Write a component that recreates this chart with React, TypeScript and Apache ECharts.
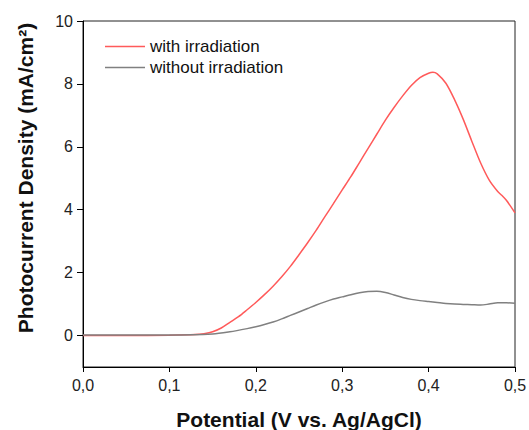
import React, { useEffect, useRef } from "react";
import * as echarts from "echarts";

const potential = [
  0.0, 0.05, 0.1, 0.13, 0.14, 0.15, 0.16, 0.17, 0.18, 0.19, 0.2, 0.21, 0.22, 0.23, 0.24, 0.25,
  0.26, 0.27, 0.28, 0.29, 0.3, 0.31, 0.32, 0.33, 0.34, 0.35, 0.36, 0.37, 0.38, 0.39, 0.4,
  0.405, 0.41, 0.42, 0.43, 0.44, 0.45, 0.46, 0.47, 0.48, 0.485, 0.49, 0.5,
];
const withIrradiation = [
  0.0, 0.0, 0.01, 0.03, 0.06, 0.12, 0.24, 0.42, 0.6, 0.82, 1.05, 1.3, 1.57, 1.87, 2.2, 2.57,
  2.95, 3.35, 3.78, 4.2, 4.63, 5.05, 5.5, 5.95, 6.4, 6.85, 7.25, 7.62, 7.95, 8.2, 8.34,
  8.37, 8.32, 8.02, 7.5, 6.88, 6.18, 5.5, 4.95, 4.58, 4.45, 4.3, 3.9,
];

const potentialDark = [
  0.0, 0.05, 0.1, 0.15, 0.17, 0.19, 0.2, 0.21, 0.22, 0.23, 0.24, 0.25, 0.26, 0.27, 0.28, 0.29,
  0.3, 0.31, 0.32, 0.33, 0.34, 0.35, 0.36, 0.37, 0.38, 0.39, 0.4, 0.41, 0.42, 0.43, 0.44,
  0.45, 0.46, 0.47, 0.48, 0.49, 0.5,
];
const withoutIrradiation = [
  0.02, 0.02, 0.02, 0.05, 0.12, 0.22, 0.28, 0.35, 0.43, 0.53, 0.64, 0.75, 0.86, 0.97, 1.07, 1.16,
  1.23, 1.3, 1.36, 1.4, 1.41, 1.37, 1.29, 1.21, 1.15, 1.11, 1.08, 1.05, 1.02, 1.0, 0.99,
  0.98, 0.97, 1.0, 1.04, 1.04, 1.03,
];

const yTicks = [0, 2, 4, 6, 8, 10];
const seriesNames = ["with irradiation", "without irradiation"];

export default function App() {
  const ref = useRef<HTMLDivElement>(null);
  useEffect(() => {
    if (!ref.current) return;
    const chart = echarts.init(ref.current, undefined, { renderer: "svg" });
    const font = "Liberation Sans, Arial, sans-serif";
    chart.setOption({
      animation: false,
      grid: {
        left: 83,
        right: 14,
        top: 21,
        bottom: 63,
        containLabel: false,
        outerBoundsMode: "none",
        show: true,
        borderColor: "#222",
        borderWidth: 1,
      },
      legend: {
        orient: "vertical",
        left: 100,
        top: 33,
        icon: "rect",
        itemWidth: 40,
        itemHeight: 1.5,
        itemGap: 4,
        data: seriesNames,
        textStyle: { fontFamily: font, fontSize: 17, color: "#111", lineHeight: 17 },
      },
      xAxis: {
        type: "value",
        min: 0,
        max: 0.5,
        interval: 0.1,
        name: "Potential (V vs. Ag/AgCl)",
        nameLocation: "middle",
        nameGap: 42,
        nameTextStyle: { fontFamily: font, fontSize: 21, fontWeight: "bold", color: "#111" },
        axisLine: { show: true, onZero: false, lineStyle: { color: "#000", width: 1 } },
        axisTick: { show: true, inside: false, length: 5, lineStyle: { color: "#000", width: 1 } },
        axisLabel: {
          fontFamily: font,
          fontSize: 16,
          color: "#222",
          margin: 10,
          formatter: (v: number) => (Math.round(v * 10) / 10).toFixed(1).replace(".", ","),
        },
        splitLine: { show: false },
      },
      yAxis: {
        type: "value",
        min: -1,
        max: 10,
        axisLine: { show: true, onZero: false, lineStyle: { color: "#000", width: 1 } },
        axisTick: {
          show: true,
          inside: false,
          length: 6,
          customValues: yTicks,
          lineStyle: { color: "#000", width: 1 },
        },
        axisLabel: {
          fontFamily: font,
          fontSize: 16,
          color: "#222",
          margin: 10,
          customValues: yTicks,
        },
        splitLine: { show: false },
      },
      graphic: [
        {
          type: "text",
          x: 25,
          y: 178,
          rotation: Math.PI / 2,
          style: {
            text: "Photocurrent Density (mA/cm²)",
            fontFamily: font,
            fontSize: 21,
            fontWeight: "bold",
            fill: "#111",
            align: "center",
            verticalAlign: "middle",
          },
        },
      ],
      series: [
        {
          name: seriesNames[0],
          type: "line",
          symbol: "none",
          showSymbol: false,
          smooth: 0.3,
          lineStyle: { color: "#ff5a5a", width: 1.5 },
          itemStyle: { color: "#ff5a5a" },
          data: potential.map((x, i) => [x, withIrradiation[i]]),
        },
        {
          name: seriesNames[1],
          type: "line",
          symbol: "none",
          showSymbol: false,
          smooth: 0.3,
          lineStyle: { color: "#808080", width: 1.5 },
          itemStyle: { color: "#808080" },
          data: potentialDark.map((x, i) => [x, withoutIrradiation[i]]),
        },
      ],
    });
    return () => chart.dispose();
  }, []);
  return (
    <div
      ref={ref}
      style={{ position: "fixed", left: 0, top: 0, width: 529, height: 430, background: "#fff" }}
    />
  );
}
